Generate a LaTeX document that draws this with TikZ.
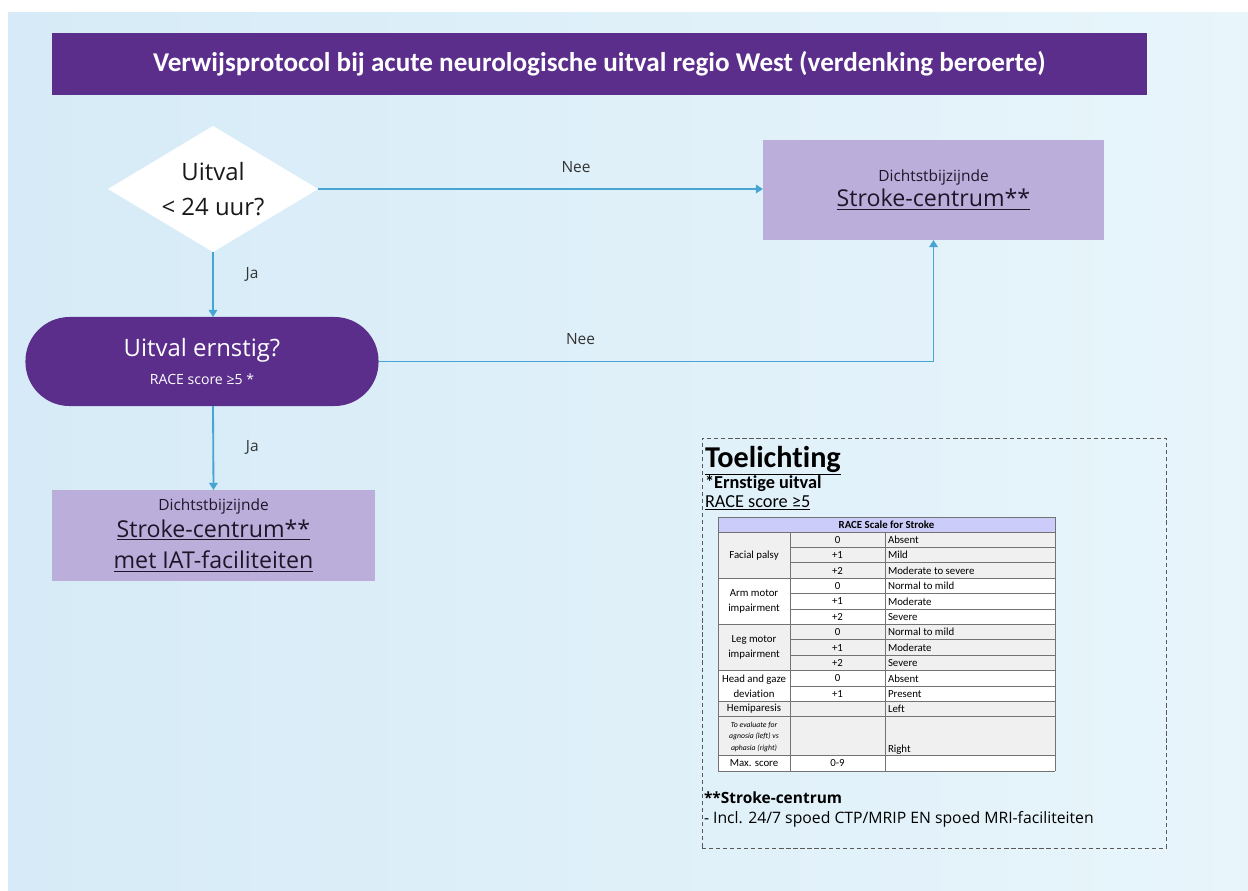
\documentclass[tikz,border=0pt]{standalone}
\usepackage{fontspec}
\setmainfont{Open Sans}
\newfontfamily\calibri[Ligatures=NoCommon]{Carlito}
\usepackage{tikz}
\usetikzlibrary{positioning,arrows.meta,calc,shapes.geometric}

\definecolor{bgleft}{RGB}{214,235,247}
\definecolor{bgright}{RGB}{232,245,251}
\definecolor{darkpurple}{RGB}{91,46,140}
\definecolor{lightpurple}{RGB}{187,174,219}
\definecolor{flowblue}{RGB}{70,165,210}
\definecolor{tblhead}{RGB}{204,204,250}
\definecolor{tblgrey}{RGB}{240,240,240}
\definecolor{inkdark}{RGB}{30,22,40}

\begin{document}
\begin{tikzpicture}[
        x=0.025cm, y=-0.025cm,
        outer sep=0pt,
        % title bar
        titlebar/.style={
            fill=darkpurple,
            text=white,
            minimum width=27.375cm,
            minimum height=1.55cm,
            font=\calibri\bfseries\fontsize{19.3}{22}\selectfont
        },
        % question diamond
        decision/.style={
            diamond,
            fill=white,
            inner sep=0pt,
            shape aspect=1.667,
            minimum width=5.25cm,
            minimum height=3.15cm,
            align=center,
            text=black!90,
            font=\fontsize{17}{24.8}\selectfont
        },
        % question pill
        terminal/.style={
            fill=darkpurple,
            text=white,
            rounded corners=1.1cm,
            minimum width=8.825cm,
            minimum height=2.225cm,
            align=center,
            font=\fontsize{17}{22.7}\selectfont
        },
        % destination boxes
        dest/.style={
            fill=lightpurple,
            text=inkdark,
            align=center,
            inner sep=0pt,
            font=\fontsize{16.5}{22.7}\selectfont
        },
        % connector
        flow/.style={
            draw=flowblue,
            line width=1.3pt,
            -{Triangle[length=5pt,width=6pt]}
        },
        lbl/.style={
            font=\fontsize{11}{13}\selectfont,
            text=black!80
        },
        % notes frame and table
        notebox/.style={
            draw=black!65,
            dash pattern=on 3pt off 2pt,
            line width=0.6pt,
            minimum width=11.6cm,
            minimum height=10.25cm
        },
        tbltxt/.style={
            inner sep=0pt,
            align=center,
            font=\calibri\fontsize{7.7}{10.6}\selectfont
        },
        tblline/.style={draw=black!55, line width=0.6pt}
    ]
    \useasboundingbox (0,0) rectangle (1248,890);

    % --- BACKGROUND ---
    \shade[left color=bgleft, right color=bgright] (8,12) rectangle (1248,890);

    % --- TITLE ---
    \node[titlebar] (title) at (599.5,64) {Verwijsprotocol bij acute neurologische uitval regio West (verdenking beroerte)};

    % --- FLOW ---
    \node[decision] (q1) at (213,189) {Uitval\\< 24 uur?};

    \node[terminal] (q2) at (202,361.5) {Uitval ernstig?\\[-3pt]{\fontsize{10}{12}\selectfont RACE score ≥5 *}};

    \node[dest, minimum width=8.525cm, minimum height=2.5cm] (dest1) at (933.5,190)
        {{\fontsize{11}{13}\selectfont Dichtstbijzijnde}\\[-5pt]\underline{Stroke-centrum**}};

    \node[dest, minimum width=8.075cm, minimum height=2.275cm] (dest2) at (213.5,535.5)
        {{\fontsize{11}{13}\selectfont Dichtstbijzijnde}\\[-4pt]\underline{Stroke-centrum**}\\\underline{met IAT-faciliteiten}};

    % arrows
    \draw[flow] (q1.east) -- (q1.east -| dest1.west)
        node[lbl, pos=0.58, above=0.3cm] (nee1) {Nee};
    \draw[flow] (q1.south) -- (q1.south |- q2.north)
        node[lbl, pos=0.35, right=0.7cm] (ja1) {Ja};
    \draw[flow] (q2.east) -| (dest1.south)
        node[lbl, pos=0.182, above=0.3cm] (nee2) {Nee};
    \draw[flow] (q1.south |- q2.south) -- (dest2.north)
        node[lbl, pos=0.49, right=0.7cm] (ja2) {Ja};

    % --- TOELICHTING ---
    \node[notebox] (notes) at (934,643) {};

    \node[anchor=base west, inner sep=0pt, font=\calibri\bfseries\fontsize{21.5}{24}\selectfont] (toel) at (705,467) {\underline{Toelichting}};
    \node[anchor=base west, inner sep=0pt, font=\calibri\bfseries\fontsize{13}{15}\selectfont] (ernst) at (705,488) {*Ernstige uitval};
    \node[anchor=base west, inner sep=0pt, font=\calibri\fontsize{13}{15}\selectfont] (racescore) at (705,507) {\underline{RACE score ≥5}};

    % table header
    \node[tbltxt, fill=tblhead, draw=black!55, line width=0.6pt, minimum width=8.425cm, minimum height=0.375cm] (thead) at (886.5,524.5) {\bfseries RACE Scale for Stroke};

    % table row shading
    \foreach \shade [count=\i] in {tblgrey,tblgrey,tblgrey,white,white,white,tblgrey,tblgrey,tblgrey,white,white,tblgrey} {
        \pgfmathsetmacro\ytop{532+(\i-1)*15.4}
        \fill[\shade] (718,\ytop) rectangle (1055,\ytop+15.4);
    }
    \fill[tblgrey] (718,716.8) rectangle (1055,755);
    \fill[white] (718,755) rectangle (1055,771);

    % table rows
    \foreach \val/\desc [count=\i] in {0/Absent, +1/Mild, +2/Moderate to severe,
            0/Normal to mild, +1/Moderate, +2/Severe,
            0/Normal to mild, +1/Moderate, +2/Severe,
            0/Absent, +1/Present, {}/Left} {
        \pgfmathsetmacro\ytop{532+(\i-1)*15.4}
        \node[tbltxt] (v\i) at (837.5,\ytop+7.7) {\val};
        \node[tbltxt, anchor=west] (d\i) at (888,\ytop+7.7) {\desc};
        \draw[tblline] (790,\ytop+15.4) -- (1055,\ytop+15.4);
    }

    % first column
    \node[tbltxt] (facial) at (754,555.1) {Facial palsy};
    \node[tbltxt] (arm) at (754,601.3) {Arm motor\\impairment};
    \node[tbltxt] (leg) at (754,647.5) {Leg motor\\impairment};
    \node[tbltxt] (head) at (754,686) {Head and gaze\\deviation};
    \node[tbltxt] (hemi) at (754,709.1) {Hemiparesis};
    \node[tbltxt, font=\calibri\itshape\fontsize{5.5}{8.2}\selectfont] (agnosia) at (754,736.5) {To evaluate for\\agnosia (left) vs\\aphasia (right)};
    \node[tbltxt] (maxsc) at (754,763) {Max. score};
    \node[tbltxt] (maxval) at (837.5,763) {0-9};
    \node[tbltxt, anchor=base west] (right) at (888,752) {Right};

    % grid
    \foreach \yy in {532,578.2,624.4,670.6,701.4,716.8,755,771}
        \draw[tblline] (718,\yy) -- (1055,\yy);
    \foreach \xx in {718,790,885,1055}
        \draw[tblline] (\xx,532) -- (\xx,771);

    % footnote
    \node[anchor=base west, inner sep=0pt, font=\bfseries\fontsize{11}{13}\selectfont] (scdef) at (704,803) {**Stroke-centrum};
    \node[anchor=base west, inner sep=0pt, font=\fontsize{11.2}{13}\selectfont] (scinfo) at (704,823) {- Incl. 24/7 spoed CTP/MRIP EN spoed MRI-faciliteiten};

\end{tikzpicture}
\end{document}
